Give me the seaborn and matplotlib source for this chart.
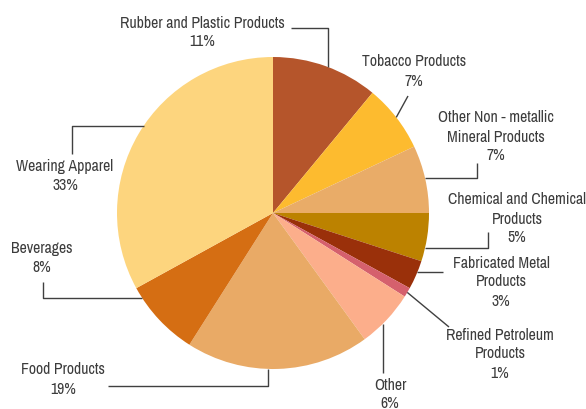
import matplotlib
matplotlib.use("Agg")
import matplotlib.pyplot as plt
import seaborn as sns
import numpy as np

# Share of output by industry, clockwise from 12 o'clock
categories = [
    "Rubber and Plastic Products",
    "Tobacco Products",
    "Other Non - metallic Mineral Products",
    "Chemical and Chemical Products",
    "Fabricated Metal Products",
    "Refined Petroleum Products",
    "Other",
    "Food Products",
    "Beverages",
    "Wearing Apparel",
]
shares = [11, 7, 7, 5, 3, 1, 6, 19, 8, 33]
label_lines = [
    ["Rubber and Plastic Products"],
    ["Tobacco Products"],
    ["Other Non - metallic", "Mineral Products"],
    ["Chemical and Chemical", "Products"],
    ["Fabricated Metal", "Products"],
    ["Refined Petroleum", "Products"],
    ["Other"],
    ["Food Products"],
    ["Beverages"],
    ["Wearing Apparel"],
]
slice_colors = [
    "#B5552B", "#FDBB2F", "#E9AC68", "#BC8200", "#9A300A",
    "#D5606D", "#FCAE8B", "#E9AA66", "#D56E13", "#FDD57E",
]

W, H = 586, 409
CX, CY, R = 273, 213, 156  # pie centre / radius in pixels from top-left

# Label layout: centre x, centre y of first line, line step
label_pos = [
    (202, 23), (414, 62), (496, 118), (517, 200), (501, 263),
    (500, 335), (390, 385), (63, 370), (42, 249), (65, 167),
]
LINE_STEP = 19
# Leader lines: fixed points, then how the line reaches the pie rim
leaders = [
    ([(291, 28), (328, 28)], "v"),
    ([(408, 96)], "mid"),
    ([(477, 163), (477, 178)], "h"),
    ([(488, 232), (488, 248)], "h"),
    ([(443, 272)], "h"),
    ([(449, 327)], "mid"),
    ([(383, 373)], "v"),
    ([(108, 386), (268, 386)], "v"),
    ([(43, 282), (43, 298)], "h"),
    ([(72, 154), (72, 126)], "h"),
]

sns.set_theme(style="white")
plt.rcParams["font.family"] = ["Archivo Narrow", "Roboto Condensed", "Liberation Sans", "DejaVu Sans"]
FS = 11.3

fig = plt.figure(figsize=(W / 100, H / 100), dpi=100)
ax = fig.add_axes([0, 0, 1, 1])

def up(y):
    return H - y

wedges, _ = ax.pie(
    shares,
    colors=slice_colors,
    startangle=90,
    counterclock=False,
    center=(CX, up(CY)),
    radius=R,
    frame=True,
    wedgeprops=dict(linewidth=0),
)
ax.set_xlim(0, W)
ax.set_ylim(0, H)
ax.set_aspect("equal")
ax.axis("off")

text_color = "#3c3c3c"
for wedge, lines, share, (tx, ty), (pts, mode) in zip(
        wedges, label_lines, shares, label_pos, leaders):
    for i, line in enumerate(lines + [f"{share}%"]):
        ax.text(tx, up(ty + i * LINE_STEP), line, ha="center", va="center",
                fontsize=FS, color=text_color)
    path = [(x, up(y)) for x, y in pts]
    lx, ly = path[-1]
    if mode == "h":
        dx = np.sqrt(max(R ** 2 - (ly - up(CY)) ** 2, 0))
        ex = CX + dx if lx > CX else CX - dx
        path.append((ex, ly))
    elif mode == "v":
        dy = np.sqrt(max(R ** 2 - (lx - CX) ** 2, 0))
        ey = up(CY) + dy if ly > up(CY) else up(CY) - dy
        path.append((lx, ey))
    else:
        a = np.deg2rad((wedge.theta1 + wedge.theta2) / 2)
        path.append((CX + R * np.cos(a), up(CY) + R * np.sin(a)))
    xs, ys = zip(*path)
    ax.plot(xs, ys, color="#404040", lw=1.0, solid_capstyle="butt")

fig.savefig("out.png", dpi=100)
